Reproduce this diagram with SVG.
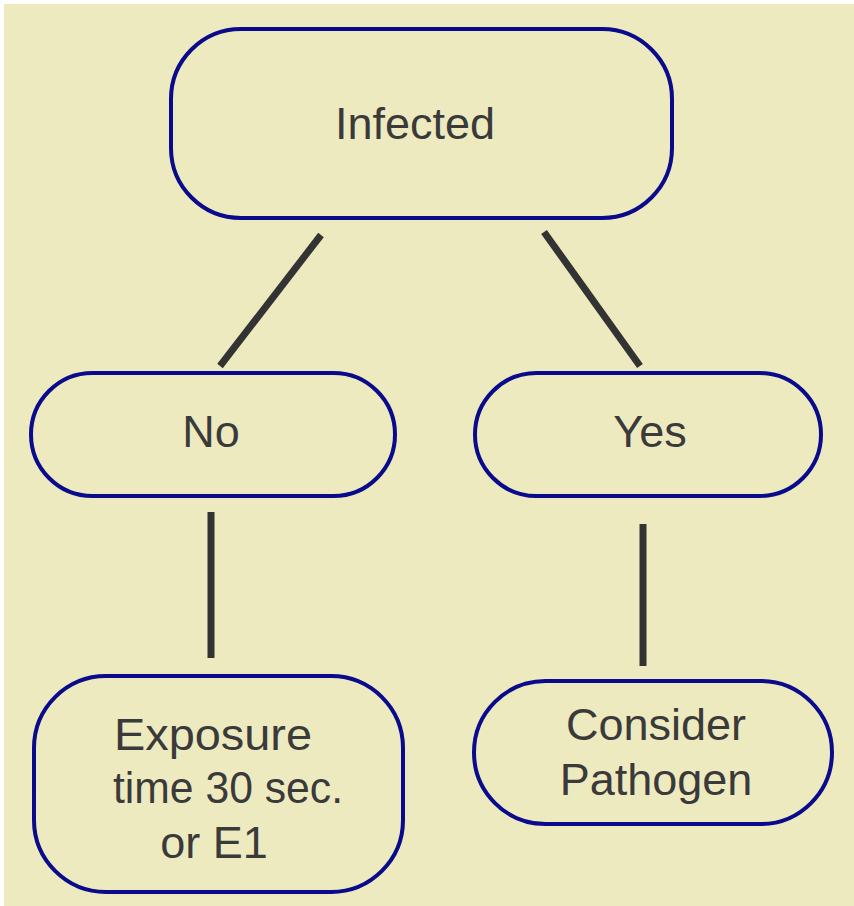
<svg xmlns="http://www.w3.org/2000/svg" width="854" height="906" viewBox="0 0 854 906">
<style>
.node{fill:#EEEAC0;stroke:#0A0A8C;stroke-width:4}
.lbl{font-family:"Liberation Sans",Arial,sans-serif;font-size:45px;fill:#3A3A3A;text-anchor:middle}
.conn line{stroke:#333333;stroke-width:7;stroke-linecap:butt}
</style>
<rect x="0" y="0" width="854" height="906" fill="#FFFFFF"/>
<rect x="4" y="4" width="850" height="902" fill="#EEEAC0"/>
<g id="connectors" class="conn">
<line x1="321" y1="235" x2="220" y2="366"/>
<line x1="544" y1="232" x2="640" y2="366"/>
<line x1="211" y1="512" x2="211" y2="658"/>
<line x1="643" y1="524" x2="643" y2="666"/>
</g>
<g id="infected">
<rect class="node" x="171" y="29" width="501" height="189" rx="70" ry="70"/>
<text class="lbl" x="415" y="139">Infected</text>
</g>
<g id="no">
<rect class="node" x="31" y="373" width="364" height="123" rx="61.5" ry="61.5"/>
<text class="lbl" x="211" y="447">No</text>
</g>
<g id="yes">
<rect class="node" x="475" y="373" width="346" height="123" rx="61.5" ry="61.5"/>
<text class="lbl" x="650" y="447">Yes</text>
</g>
<g id="exposure">
<rect class="node" x="34" y="676" width="369" height="216" rx="72" ry="72"/>
<text class="lbl" x="213" y="750" textLength="198" lengthAdjust="spacingAndGlyphs">Exposure</text>
<text class="lbl" x="228" y="803" textLength="230" lengthAdjust="spacingAndGlyphs">time 30 sec.</text>
<text class="lbl" x="214" y="858">or E1</text>
</g>
<g id="consider">
<rect class="node" x="474" y="681" width="358" height="143" rx="71.5" ry="71.5"/>
<text class="lbl" x="656" y="740">Consider</text>
<text class="lbl" x="656" y="795">Pathogen</text>
</g>
</svg>
